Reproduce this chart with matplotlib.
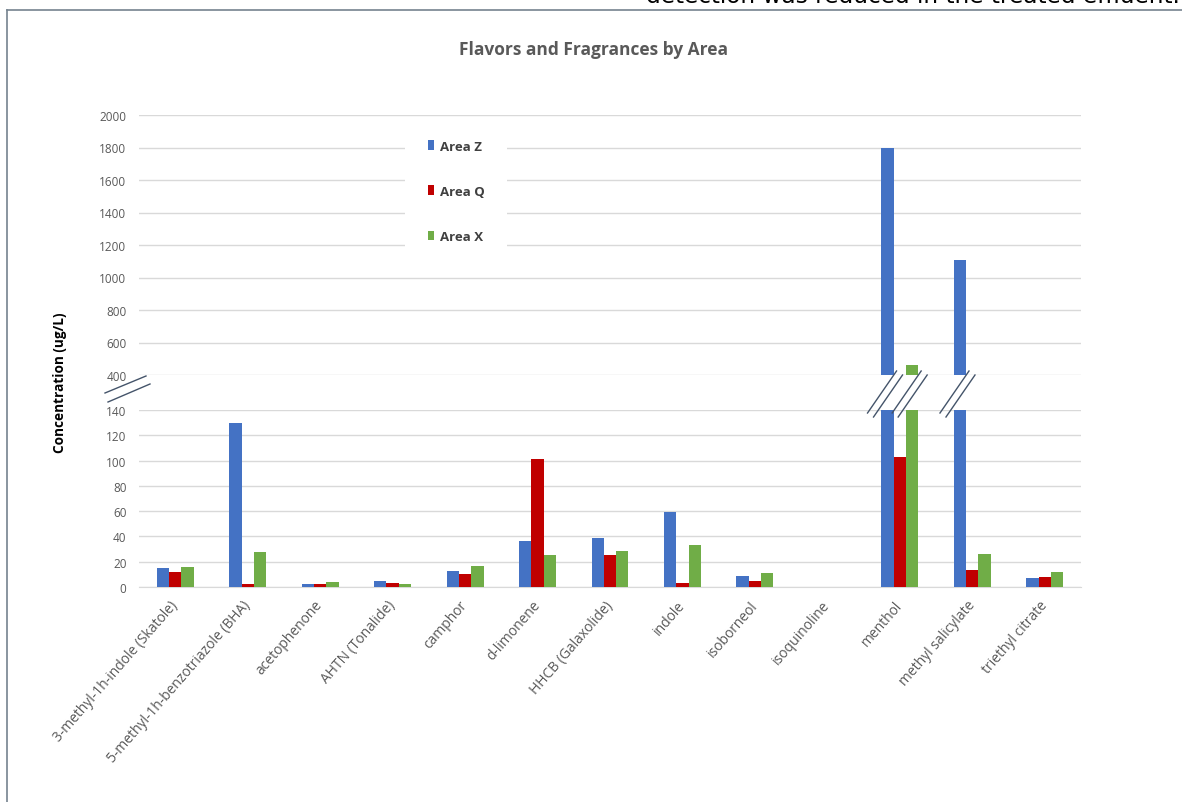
import matplotlib
matplotlib.use("Agg")
import matplotlib.pyplot as plt
from matplotlib.lines import Line2D
import numpy as np

plt.rcParams['font.family'] = ['Open Sans', 'DejaVu Sans']

categories = ['3-methyl-1h-indole (Skatole)', '5-methyl-1h-benzotriazole (BHA)',
              'acetophenone', 'AHTN (Tonalide)', 'camphor', 'd-limonene',
              'HHCB (Galaxolide)', 'indole', 'isoborneol', 'isoquinoline',
              'menthol', 'methyl salicylate', 'triethyl citrate']
area_z = [14.8, 130, 2.4, 4.7, 12.4, 36, 39, 59, 9, 0, 1800, 1110, 6.9]
area_q = [12, 2.4, 2.4, 3.2, 10, 101, 25, 3.2, 4.7, 0, 102.5, 13.7, 8.2]
area_x = [15.6, 28, 4, 2.4, 17, 25.3, 28.7, 33, 10.8, 0, 462, 26, 11.6]
series = [('Area Z', area_z, '#4472C4'),
          ('Area Q', area_q, '#C00000'),
          ('Area X', area_x, '#70AD47')]

low_ticks = [0, 20, 40, 60, 80, 100, 120, 140]
high_ticks = [400, 600, 800, 1000, 1200, 1400, 1600, 1800, 2000]

W, H = 1182, 803
fig = plt.figure(figsize=(W / 100, H / 100), dpi=100)

# two panels for the broken axis (pixel positions)
ax_top = fig.add_axes([139 / W, 1 - 376 / H, 942 / W, 260 / H])
ax_bot = fig.add_axes([139 / W, 1 - 588 / H, 942 / W, 177 / H])

x = np.arange(len(categories))
bw = 0.17
grid_c = '#d9d9d9'
txt_c = '#595959'

for ax in (ax_top, ax_bot):
    for k, (name, vals, col) in enumerate(series):
        ax.bar(x + (k - 1) * bw, vals, bw, color=col, label=name, zorder=3)
    ax.set_xlim(-0.5, len(categories) - 0.5)
    ax.grid(axis='y', color=grid_c, lw=1, zorder=0)
    ax.set_axisbelow(True)
    for s in ax.spines.values():
        s.set_visible(False)
    ax.tick_params(axis='both', length=0, labelsize=8.5, labelcolor=txt_c)
    ax.tick_params(axis='y', pad=9)

ax_top.set_ylim(400, 2000)
ax_top.set_yticks(high_ticks)
ax_top.set_xticks([])

ax_bot.set_ylim(0, 140)
ax_bot.set_yticks(low_ticks)
ax_bot.spines['bottom'].set_visible(True)
ax_bot.spines['bottom'].set_color(grid_c)
ax_bot.set_xticks(x)
ax_bot.set_xticklabels(categories, rotation=49, ha='right', va='center',
                       rotation_mode='anchor', fontsize=10, color=txt_c)
ax_bot.tick_params(axis='x', pad=11)

# break marks
brk_c = '#44546a'


def pix_line(x0, y0, x1, y1):
    # coordinates in image pixels, y measured from the top
    fig.add_artist(Line2D([x0 / W, x1 / W], [1 - y0 / H, 1 - y1 / H],
                          color=brk_c, lw=1))


pix_line(105, 394, 146, 377)
pix_line(108, 403, 150, 385)

for k, (name, vals, col) in enumerate(series):
    for i, v in enumerate(vals):
        if v > low_ticks[-1]:
            cx = ax_bot.transData.transform((x[i] + (k - 1) * bw, 0))[0]
            pix_line(cx - 20, 414, cx + 9, 372)
            pix_line(cx - 14, 418, cx + 15, 376)

# legend
leg = ax_top.legend(loc='upper left', bbox_to_anchor=(413 / W, 1 - 126 / H),
                    bbox_transform=fig.transFigure, frameon=True,
                    fontsize=9.5, labelspacing=2.45, handlelength=0.5,
                    handleheight=0.75, handletextpad=0.45, borderpad=1.1,
                    borderaxespad=0)
leg.get_frame().set_facecolor('white')
leg.get_frame().set_edgecolor('none')
leg.get_frame().set_alpha(1)
leg.get_frame().set_boxstyle('square', pad=0.6)
for t in leg.get_texts():
    t.set_color('#404040')
    t.set_fontweight('bold')

fig.text(0.5025, 1 - 50 / H, 'Flavors and Fragrances by Area', ha='center',
         va='center', fontsize=12.5, fontweight='bold', color=txt_c)
fig.text(60 / W, 1 - 383 / H, 'Concentration (ug/L)', rotation=90,
         ha='center', va='center', fontsize=9.8, fontweight='bold', color='black')

# frame of the embedded chart and the clipped line of text above it
fig.add_artist(Line2D([7 / W, 1], [1 - 10.5 / H, 1 - 10.5 / H], color='#76838f', lw=1.2))
fig.add_artist(Line2D([7 / W, 7 / W], [0, 1 - 10.5 / H], color='#76838f', lw=1.2))
fig.text(1180 / W, 1 - 3 / H, 'detection was reduced in the treated effluent.',
         ha='right', va='baseline', fontsize=16.7, color='black', family='DejaVu Sans')

fig.savefig('out.png', dpi=100)
